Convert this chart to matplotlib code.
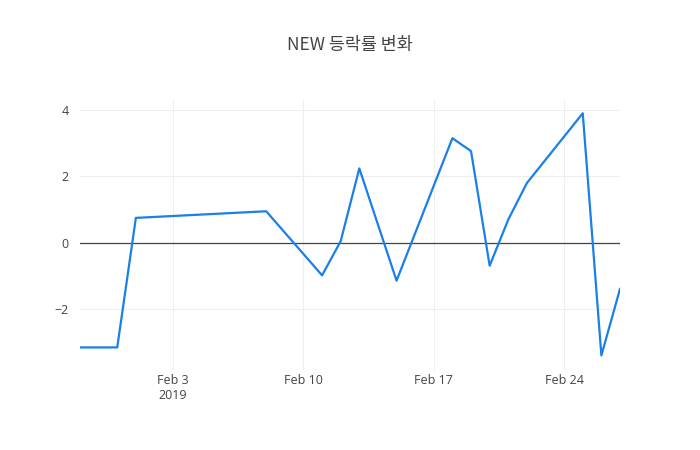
import matplotlib
import matplotlib.pyplot as plt
import numpy as np

matplotlib.use('agg')

plt.rcParams['font.family'] = ['Open Sans', 'Noto Sans CJK KR', 'DejaVu Sans']

title = 'NEW 등락률 변화'
dates = ['2019-01-29', '2019-01-31', '2019-02-01', '2019-02-08', '2019-02-11',
         '2019-02-12', '2019-02-13', '2019-02-15', '2019-02-18', '2019-02-19',
         '2019-02-20', '2019-02-21', '2019-02-22', '2019-02-25', '2019-02-26',
         '2019-02-27']
changes = [-3.15, -3.15, 0.75, 0.95, -0.98, 0.05, 2.24, -1.14, 3.15, 2.76,
           -0.69, 0.70, 1.80, 3.90, -3.39, -1.39]
tick_dates = ['2019-02-03', '2019-02-10', '2019-02-17', '2019-02-24']
tick_labels = ['Feb 3\n2019', 'Feb 10', 'Feb 17', 'Feb 24']
y_ticks = [-2, 0, 2, 4]

x = np.array(dates, dtype='datetime64[D]')
xt = np.array(tick_dates, dtype='datetime64[D]')

fig = plt.figure(figsize=(7, 4.5), dpi=100)
ax = fig.add_axes([80 / 700, 80 / 450, 540 / 700, 270 / 450])

ax.plot(x, changes, color='#1a7fe8', linewidth=1.6, zorder=3)
ax.axhline(0, color='#444444', linewidth=0.9, zorder=2)

ax.set_xlim(x[0], x[-1])
ax.set_ylim(-3.83, 4.30)
ax.set_xticks(xt)
ax.set_xticklabels(tick_labels, linespacing=1.15)
ax.set_yticks(y_ticks)
ax.set_yticklabels([str(v).replace('-', '\u2212') for v in y_ticks])

ax.grid(True, color='#eeeeee', linewidth=0.8, zorder=0)
ax.tick_params(length=0, labelsize=9, colors='#444444')
ax.tick_params(axis='x', pad=3)
ax.tick_params(axis='y', pad=8)
for s in ax.spines.values():
    s.set_visible(False)

fig.text(0.5, 1 - 45 / 450, title, ha='center', va='center', fontsize=12.5, color='#444444',
         family=['Noto Sans CJK KR', 'DejaVu Sans'])

fig.savefig('out.png', dpi=100)
plt.close(fig)
